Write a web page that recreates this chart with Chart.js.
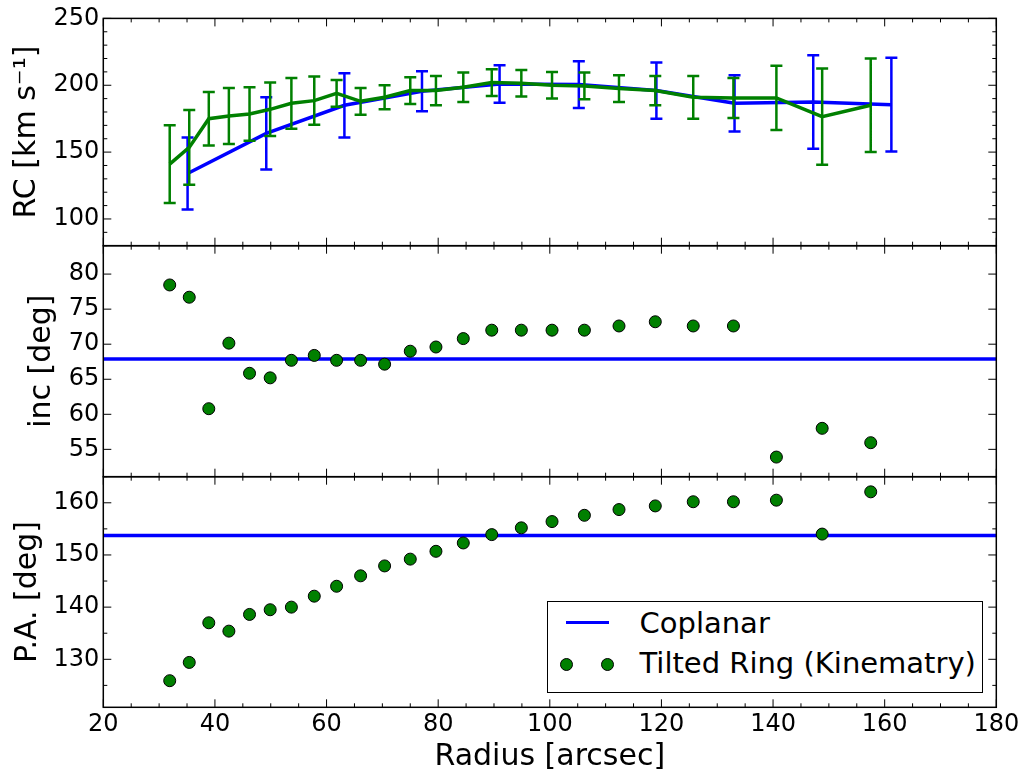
<!DOCTYPE html>
<html>
<head>
<meta charset="utf-8">
<script src="https://cdn.jsdelivr.net/npm/chart.js@4.4.1/dist/chart.umd.min.js"></script>
<style>
  html, body { margin: 0; padding: 0; background: #fff; }
  #wrap { position: relative; width: 1027px; height: 775px; font-family: "DejaVu Sans", sans-serif; }
  #wrap canvas { position: absolute; left: 0; top: 0; }
  #legend { position: absolute; left: 547px; top: 601px; width: 436px; height: 92px; box-sizing: border-box;
            border: 1.5px solid #000; background: #fff; }
  #legend .txt { position: absolute; left: 91.5px; font-size: 29px; line-height: 29px; color: #000; white-space: nowrap; }
  #legend .dot { position: absolute; width: 11px; height: 11px; border-radius: 50%; background: #008000; border: 1px solid #000; }
  #legend .ln { position: absolute; left: 17.5px; top: 19px; width: 43px; height: 3px; background: #0000ff; }
</style>
</head>
<body>
<div id="wrap">
  <canvas id="rc-chart" width="1027" height="775"></canvas>
  <canvas id="inc-chart" width="1027" height="775"></canvas>
  <canvas id="pa-chart" width="1027" height="775"></canvas>
  <div id="legend">
    <div class="ln"></div>
    <div class="txt" style="top:7.3px">Coplanar</div>
    <div class="dot" style="left:12px;top:56px"></div>
    <div class="dot" style="left:52.7px;top:56px"></div>
    <div class="txt" style="top:47px">Tilted Ring (Kinematry)</div>
  </div>
</div>
<script>
// tilted ring (kinematry) fits, one value per ring
const radiusRing = [31.9, 35.4, 38.9, 42.5, 46.2, 49.9, 53.7, 57.8, 61.8, 66.1, 70.4, 75.0, 79.6,
  84.5, 89.6, 94.9, 100.4, 106.2, 112.4, 118.9, 125.7, 132.9, 140.6, 148.8, 157.5]
const rcRing = [141, 153.5, 175, 177, 178.5, 182, 186.5, 188.5, 194, 188, 191, 196, 196,
  198.5, 202, 201.5, 200, 199.5, 197.5, 196, 191, 190.5, 190.5, 176.5, 185]
const rcRingErr = [29, 28, 20, 21, 20, 20, 19, 18, 10, 10, 9, 10, 11,
  11, 10, 10, 10, 10, 10, 11, 16, 15, 24, 36, 35]
const incRing = [78.45, 76.7, 60.8, 70.15, 65.85, 65.2, 67.7, 68.4, 67.7, 67.7, 67.15, 69.0, 69.6,
  70.8, 72.0, 72.0, 72.0, 72.0, 72.6, 73.2, 72.6, 72.6, 53.9, 58.0, 55.95]
const paRing = [125.9, 129.4, 137.0, 135.4, 138.6, 139.5, 140.0, 142.1, 144.0, 146.0, 147.9, 149.2, 150.7,
  152.3, 153.9, 155.2, 156.4, 157.6, 158.7, 159.4, 160.2, 160.2, 160.5, 154.0, 162.1]

// coplanar model
const radiusCoplanar = [35.1, 49.2, 63.2, 77.1, 91.0, 105.2, 119.1, 133.1, 147.2, 161.2]
const rcCoplanar = [134, 164, 185, 195.5, 201, 200.5, 196, 186.5, 187.5, 185.5]
const rcCoplanarErr = [27, 27, 24, 15, 14, 17.5, 21, 21, 35, 35]
const incCoplanar = [67.9, 67.9]
const paCoplanar = [153.75, 153.75]
const radiusRange = [20, 180]

// axes
const xMajorTicks = [20, 40, 60, 80, 100, 120, 140, 160, 180]
const rcMajorTicks = [100, 150, 200, 250]
const incMajorTicks = [55, 60, 65, 70, 75, 80]
const paMajorTicks = [130, 140, 150, 160]

const blue = '#0000ff'
const green = '#008000'
const tickFont = { family: 'DejaVu Sans', size: 24 }
const labelFont = { family: 'DejaVu Sans', size: 30 }

function toXY(xs, ys) {
  return xs.map((x, i) => ({ x: x, y: ys[i] }))
}

function steps(min, max, step) {
  let out = []
  for (let v = min; v <= max + 1e-9; v += step) out.push(Math.round(v * 100) / 100)
  return out
}

// matplotlib-like frame with inward ticks on all four sides
const frameTicks = {
  id: 'frameTicks',
  afterDraw(chart, args, opts) {
    const { ctx, chartArea: a } = chart
    const xs = chart.scales.x
    const ys = chart.scales.y
    ctx.save()
    ctx.strokeStyle = '#000'
    ctx.lineWidth = 1
    ctx.beginPath()
    xs.ticks.forEach(t => {
      const px = xs.getPixelForValue(t.value)
      const len = opts.xMajor.includes(t.value) ? 8 : 4
      ctx.moveTo(px, a.bottom); ctx.lineTo(px, a.bottom - len)
      ctx.moveTo(px, a.top); ctx.lineTo(px, a.top + len)
    })
    ys.ticks.forEach(t => {
      const py = ys.getPixelForValue(t.value)
      const len = opts.yMajor.includes(t.value) ? 8 : 4
      ctx.moveTo(a.left, py); ctx.lineTo(a.left + len, py)
      ctx.moveTo(a.right, py); ctx.lineTo(a.right - len, py)
    })
    ctx.stroke()
    ctx.lineWidth = 1.5
    ctx.strokeRect(a.left, a.top, a.right - a.left, a.bottom - a.top)
    ctx.restore()
  }
}

// vertical error bars with caps, drawn right after their own dataset
const errorBars = {
  id: 'errorBars',
  afterDatasetDraw(chart, args) {
    const ds = chart.data.datasets[args.index]
    if (!ds.errors) return
    const xs = chart.scales[args.meta.xAxisID]
    const ys = chart.scales[args.meta.yAxisID]
    const ctx = chart.ctx
    ctx.save()
    ctx.strokeStyle = ds.borderColor
    ctx.lineWidth = 2.5
    ctx.beginPath()
    ds.data.forEach((p, i) => {
      const px = xs.getPixelForValue(p.x)
      const hi = ys.getPixelForValue(p.y + ds.errors[i])
      const lo = ys.getPixelForValue(p.y - ds.errors[i])
      ctx.moveTo(px, hi); ctx.lineTo(px, lo)
      ctx.moveTo(px - 6, hi); ctx.lineTo(px + 6, hi)
      ctx.moveTo(px - 6, lo); ctx.lineTo(px + 6, lo)
    })
    ctx.stroke()
    ctx.restore()
  }
}

function panelOptions(p) {
  return {
    responsive: false,
    animation: false,
    events: [],
    layout: { padding: { top: p.top, bottom: p.bottom, left: 0, right: 30.7 } },
    plugins: {
      legend: { display: false },
      tooltip: { enabled: false },
      frameTicks: { xMajor: xMajorTicks, yMajor: p.yMajor }
    },
    scales: {
      x: {
        type: 'linear',
        min: 20,
        max: 180,
        grid: { display: false, drawTicks: false },
        border: { display: false },
        afterBuildTicks: s => { s.ticks = steps(20, 180, 5).map(v => ({ value: v })) },
        afterFit: s => { s.height = p.xHeight },
        ticks: {
          display: p.showX,
          autoSkip: false,
          maxRotation: 0,
          padding: 3,
          color: '#000',
          font: tickFont,
          callback: v => xMajorTicks.includes(v) ? String(v) : ''
        },
        title: {
          display: p.showX,
          text: 'Radius [arcsec]',
          color: '#000',
          font: labelFont,
          padding: { top: 0, bottom: 0 }
        }
      },
      y: {
        type: 'linear',
        min: p.ymin,
        max: p.ymax,
        grid: { display: false, drawTicks: false },
        border: { display: false },
        afterBuildTicks: s => { s.ticks = p.yTicks.map(v => ({ value: v })) },
        afterFit: s => { s.width = 103.3 },
        ticks: {
          autoSkip: false,
          padding: 4,
          color: '#000',
          font: tickFont,
          callback: v => p.yMajor.includes(v) ? String(v) : ''
        },
        title: {
          display: true,
          text: p.title,
          color: '#000',
          font: labelFont,
          padding: { top: p.titlePad, bottom: 0 }
        }
      }
    }
  }
}

Chart.register(frameTicks, errorBars)

const rcChart = new Chart(document.getElementById('rc-chart'), {
  type: 'scatter',
  data: {
    datasets: [{
      label: 'Coplanar',
      data: toXY(radiusCoplanar, rcCoplanar),
      errors: rcCoplanarErr,
      showLine: true,
      borderColor: blue,
      borderWidth: 3.5,
      pointRadius: 0,
      order: 2
    }, {
      label: 'Tilted Ring (Kinematry)',
      data: toXY(radiusRing, rcRing),
      errors: rcRingErr,
      showLine: true,
      borderColor: green,
      borderWidth: 3.5,
      pointRadius: 0,
      order: 1
    }]
  },
  options: panelOptions({
    top: 15.7, bottom: 529.3, xHeight: 0, showX: false,
    ymin: 80, ymax: 250, yTicks: steps(80, 250, 10), yMajor: rcMajorTicks,
    title: 'RC [km s\u207B\u00B9]', titlePad: 9.6
  })
})

const incChart = new Chart(document.getElementById('inc-chart'), {
  type: 'scatter',
  data: {
    datasets: [{
      label: 'Coplanar',
      data: toXY(radiusRange, incCoplanar),
      showLine: true,
      borderColor: blue,
      borderWidth: 3.5,
      pointRadius: 0,
      order: 2
    }, {
      label: 'Tilted Ring (Kinematry)',
      data: toXY(radiusRing, incRing),
      backgroundColor: green,
      borderColor: '#000',
      borderWidth: 1,
      pointRadius: 6,
      order: 1
    }]
  },
  options: panelOptions({
    top: 245.7, bottom: 298.3, xHeight: 0, showX: false,
    ymin: 51.1, ymax: 84.05, yTicks: incMajorTicks, yMajor: incMajorTicks,
    title: 'inc [deg]', titlePad: 23.9
  })
})

const paChart = new Chart(document.getElementById('pa-chart'), {
  type: 'scatter',
  data: {
    datasets: [{
      label: 'Coplanar',
      data: toXY(radiusRange, paCoplanar),
      showLine: true,
      borderColor: blue,
      borderWidth: 3.5,
      pointRadius: 0,
      order: 2
    }, {
      label: 'Tilted Ring (Kinematry)',
      data: toXY(radiusRing, paRing),
      backgroundColor: green,
      borderColor: '#000',
      borderWidth: 1,
      pointRadius: 6,
      order: 1
    }]
  },
  options: panelOptions({
    top: 476.7, bottom: 0, xHeight: 67.7, showX: true,
    ymin: 120.8, ymax: 165, yTicks: steps(125, 165, 5), yMajor: paMajorTicks,
    title: 'P.A. [deg]', titlePad: 9.9
  })
})
</script>
</body>
</html>
